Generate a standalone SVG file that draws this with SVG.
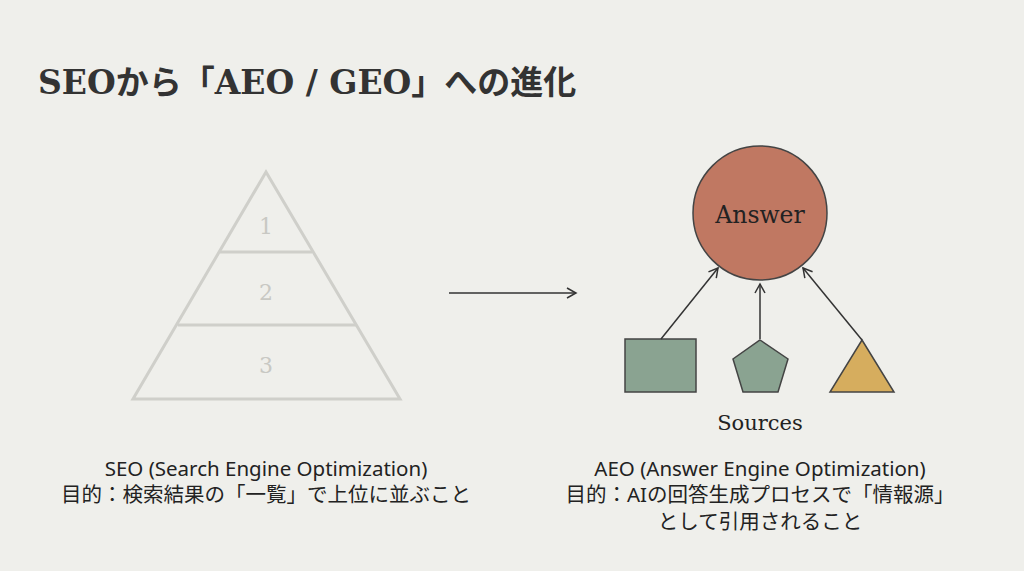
<svg xmlns="http://www.w3.org/2000/svg" width="1024" height="571" viewBox="0 0 1024 571">
<style>
.t{font-family:"Noto Sans","Noto Sans CJK JP",sans-serif;font-size:20.5px;fill:#222;text-anchor:middle}
.s{font-family:"DejaVu Serif","Liberation Serif","Noto Sans CJK JP",serif}
.py{fill:none;stroke:#cfcfca;stroke-width:3}
.pn{font-size:22px;fill:#c8c8c3;text-anchor:middle}
.c{stroke:#333;stroke-width:1.5;fill:none}
</style>
<defs><marker id="a" markerWidth="12" markerHeight="12" refX="10" refY="6" orient="auto" markerUnits="userSpaceOnUse"><path d="M1,1 L10,6 L1,11" fill="none" stroke="#333" stroke-width="1.5"/></marker></defs>
<rect width="1024" height="571" fill="#efefeb"/>
<text x="38" y="94" class="s" font-size="33" font-weight="bold" fill="#333">SEOから「AEO / GEO」への進化</text>
<g id="pyramid">
<polygon class="py" points="266,172 133,399 400,399"/>
<line class="py" x1="220" y1="252" x2="312" y2="252"/>
<line class="py" x1="178" y1="325" x2="356" y2="325"/>
<text class="s pn" x="266" y="234">1</text>
<text class="s pn" x="266" y="300">2</text>
<text class="s pn" x="266" y="373">3</text>
</g>
<g id="answer"><circle cx="760" cy="213" r="67" fill="#c07862" stroke="#444" stroke-width="1.5"/>
<text class="s" x="760" y="223" font-size="23.5" text-anchor="middle" fill="#222">Answer</text></g>
<g id="rect"><rect x="625" y="339" width="71" height="53" fill="#8aa391" stroke="#444" stroke-width="1.5"/></g>
<g id="pentagon"><polygon points="760,340 788,359 778,392 743,392 733,359" fill="#8aa391" stroke="#444" stroke-width="1.5"/></g>
<g id="triangle"><polygon points="862,340 894,392 830,392" fill="#d6ad5e" stroke="#444" stroke-width="1.5"/></g>
<g id="connectors">
<line class="c" x1="449" y1="293" x2="576" y2="293" marker-end="url(#a)"/>
<line class="c" x1="661" y1="339" x2="718" y2="268" marker-end="url(#a)"/>
<line class="c" x1="760" y1="339" x2="760" y2="284" marker-end="url(#a)"/>
<line class="c" x1="862" y1="340" x2="803" y2="268" marker-end="url(#a)"/>
</g>
<text class="s" x="760" y="430" font-size="21" text-anchor="middle" fill="#222">Sources</text>
<text class="t" x="266" y="476">SEO (Search Engine Optimization)</text>
<text class="t" x="266" y="502">目的：検索結果の「一覧」で上位に並ぶこと</text>
<text class="t" x="760" y="476">AEO (Answer Engine Optimization)</text>
<text class="t" x="760" y="502">目的：AIの回答生成プロセスで「情報源」</text>
<text class="t" x="760" y="529">として引用されること</text>
</svg>
